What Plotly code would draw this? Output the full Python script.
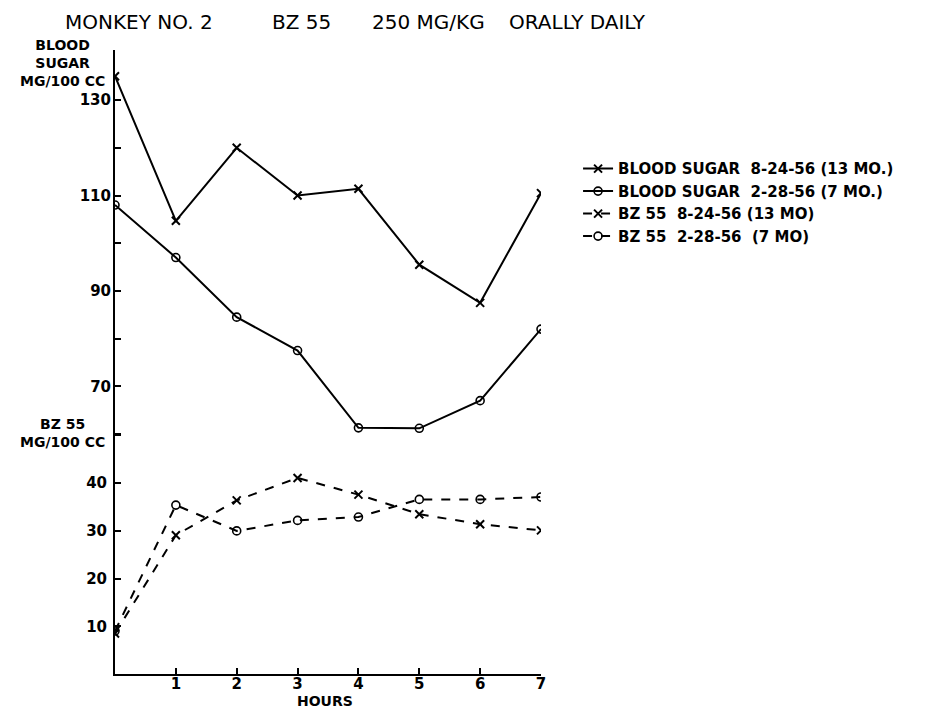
import plotly.graph_objects as go

hours = [0, 1, 2, 3, 4, 5, 6, 7]
bs_13mo = [135, 104.7, 120, 110, 111.4, 95.5, 87.5, 110.5]
bs_7mo = [108, 97, 84.5, 77.5, 61.3, 61.2, 67, 82]
bz_13mo = [8.5, 29.1, 36.4, 41.1, 37.6, 33.5, 31.4, 30.1]
bz_7mo = [9, 35.4, 30.0, 32.2, 32.9, 36.6, 36.6, 37.1]

names = ["BLOOD SUGAR  8-24-56 (13 MO.)", "BLOOD SUGAR  2-28-56 (7 MO.)",
         "BZ 55  8-24-56 (13 MO)", "BZ 55  2-28-56  (7 MO)"]

title_parts = ["MONKEY NO. 2", "BZ 55", "250 MG/KG", "ORALLY DAILY"]

bs_ticks = [60, 70, 80, 90, 100, 110, 120, 130]
bs_ticktext = ["", "70", "", "90", "", "110", "", "130"]
bz_ticks = [10, 20, 30, 40, 50]
bz_ticktext = ["10", "20", "30", "40", ""]
hour_ticks = [1, 2, 3, 4, 5, 6, 7]

FONT = "DejaVu Sans"
xmark = dict(symbol="x-thin", size=8, line=dict(width=2, color="black"), color="black")
omark = dict(symbol="circle-open", size=8, line=dict(width=1.6, color="black"), color="black")

fig = go.Figure()
fig.add_trace(go.Scatter(x=hours, y=bs_13mo, yaxis="y2", mode="lines+markers", name=names[0],
                         line=dict(color="black", width=2), marker=xmark))
fig.add_trace(go.Scatter(x=hours, y=bs_7mo, yaxis="y2", mode="lines+markers", name=names[1],
                         line=dict(color="black", width=2), marker=omark))
fig.add_trace(go.Scatter(x=hours, y=bz_13mo, yaxis="y", mode="lines+markers", name=names[2],
                         line=dict(color="black", width=2, dash="dash"), marker=xmark))
fig.add_trace(go.Scatter(x=hours, y=bz_7mo, yaxis="y", mode="lines+markers", name=names[3],
                         line=dict(color="black", width=2, dash="dash"), marker=omark))

tickfont = dict(family=FONT, size=15, color="black", weight="bold")
title_x = [-0.1221, 0.3638, 0.5986, 0.9202]
annotations = [
    dict(text=t, xref="paper", yref="paper", x=xp, y=1.0673, xanchor="left", yanchor="top",
         showarrow=False, font=dict(family=FONT, size=20, color="black"))
    for t, xp in zip(title_parts, title_x)
]
annotations += [
    dict(text="BLOOD<br>SUGAR<br>MG/100 CC", xref="paper", yref="paper",
         x=-0.1244, y=0.979, xanchor="center", yanchor="middle", align="center",
         showarrow=False, font=dict(family=FONT, size=14, color="black", weight="bold")),
    dict(text="BZ 55<br>MG/100 CC", xref="paper", yref="paper",
         x=-0.1244, y=0.386, xanchor="center", yanchor="middle", align="center",
         showarrow=False, font=dict(family=FONT, size=14, color="black", weight="bold")),
    dict(text="HOURS", xref="paper", yref="paper",
         x=0.493, y=-0.0595, xanchor="center", yanchor="bottom",
         showarrow=False, font=dict(family=FONT, size=14, color="black", weight="bold")),
]

fig.update_layout(
    width=924, height=703,
    paper_bgcolor="white", plot_bgcolor="white",
    margin=dict(l=107, r=391, t=42, b=37),
    showlegend=True,
    legend=dict(x=1.087, y=0.836, xanchor="left", yanchor="top",
                font=dict(family=FONT, size=15, color="black", weight="bold"),
                tracegroupgap=0, bgcolor="rgba(0,0,0,0)"),
    xaxis=dict(range=[0, 7], showline=True, linecolor="black", linewidth=2,
               ticks="inside", ticklen=6, tickwidth=2, tickcolor="black",
               tickvals=hour_ticks, showgrid=False, zeroline=False,
               ticklabelstandoff=-5, tickfont=tickfont),
    yaxis=dict(range=[0, 130.8], showline=True, linecolor="black", linewidth=2,
               ticks="inside", ticklen=6, tickwidth=2, tickcolor="black",
               tickvals=bz_ticks, ticktext=bz_ticktext, showgrid=False, zeroline=False,
               ticklabelstandoff=3, tickfont=tickfont),
    yaxis2=dict(range=[9.7, 140.5], overlaying="y", side="left", showline=False,
                ticks="inside", ticklen=6, tickwidth=2, tickcolor="black",
                tickvals=bs_ticks, ticktext=bs_ticktext, showgrid=False, zeroline=False,
                ticklabelstandoff=3, tickfont=tickfont),
    annotations=annotations,
)

fig.write_html("out.html")
